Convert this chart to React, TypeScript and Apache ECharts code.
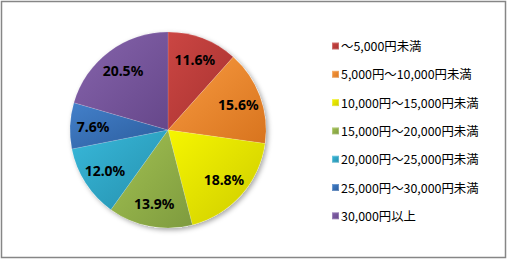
import React, { useEffect, useRef } from "react";
import * as echarts from "echarts";

const categories = [
  "～5,000円未満",
  "5,000円～10,000円未満",
  "10,000円～15,000円未満",
  "15,000円～20,000円未満",
  "20,000円～25,000円未満",
  "25,000円～30,000円未満",
  "30,000円以上",
];
const values = [11.6, 15.6, 18.8, 13.9, 12.0, 7.6, 20.5];
const lightColors = ["#CB4643", "#F89A40", "#F6F600", "#A2C152", "#38B8DA", "#4380CA", "#8664AC"];
const darkColors = ["#A83230", "#D8741E", "#CDCB00", "#7E9B3E", "#2590AD", "#2B5C9C", "#66478A"];
const legendColors = ["#C0393A", "#F28A2E", "#E8E800", "#94B548", "#2FA8C8", "#3A70B8", "#7A56A0"];

export default function App() {
  const ref = useRef<HTMLDivElement>(null);
  useEffect(() => {
    if (!ref.current) return;
    const chart = echarts.init(ref.current, null, { renderer: "svg" });
    const data = categories.map((name, i) => ({
      name,
      value: values[i],
      itemStyle: {
        color: new echarts.graphic.LinearGradient(0, 0, 1, 1, [
          { offset: 0, color: lightColors[i] },
          { offset: 1, color: darkColors[i] },
        ]),
      },
    }));
    const labelData = categories.map((name, i) => ({ name, value: values[i] }));
    chart.setOption({
      animation: false,
      backgroundColor: "#ffffff",
      color: legendColors,
      graphic: [
        {
          type: "rect",
          shape: { x: 1.5, y: 1.5, width: 504, height: 256 },
          style: { fill: "none", stroke: "#868686", lineWidth: 1.5 },
          silent: true,
          z: 10,
        },
      ],
      legend: {
        data: categories,
        orient: "vertical",
        left: 326,
        top: 33,
        itemWidth: 7,
        itemHeight: 7,
        itemGap: 12.3,
        icon: "rect",
        textStyle: {
          fontFamily: "Noto Sans CJK JP",
          fontSize: 12.4,
          lineHeight: 16,
          color: "#000000",
          padding: [0, 0, 0, -3],
        },
      },
      series: [
        {
          type: "pie",
          silent: true,
          center: [168, 130],
          radius: [0, 98],
          label: { show: false },
          labelLine: { show: false },
          data: [{ name: "_bg", value: 1 }],
          itemStyle: {
            color: "#ffffff",
            shadowBlur: 5,
            shadowOffsetX: 2,
            shadowOffsetY: 2,
            shadowColor: "rgba(0,0,0,0.35)",
          },
          z: 1,
        },
        {
          type: "pie",
          center: [168, 130],
          radius: [0, 98],
          startAngle: 90,
          clockwise: true,
          label: { show: false },
          labelLine: { show: false },
          itemStyle: { borderColor: "rgba(255,255,255,0.25)", borderWidth: 0.5 },
          data,
          z: 2,
        },
        {
          type: "pie",
          silent: true,
          center: [168, 130],
          radius: [46, 98],
          startAngle: 90,
          clockwise: true,
          itemStyle: { color: "rgba(0,0,0,0)" },
          labelLine: { show: false },
          label: {
            show: true,
            position: "inside",
            formatter: (p: any) => p.value.toFixed(1) + "%",
            fontFamily: "Noto Sans",
            fontWeight: "bold",
            fontSize: 14,
            color: "#000000",
          },
          data: labelData,
          z: 3,
        },
      ],
    });
    return () => chart.dispose();
  }, []);
  return (
    <div
      ref={ref}
      style={{ position: "absolute", left: 0, top: 0, width: 508, height: 260 }}
    />
  );
}
